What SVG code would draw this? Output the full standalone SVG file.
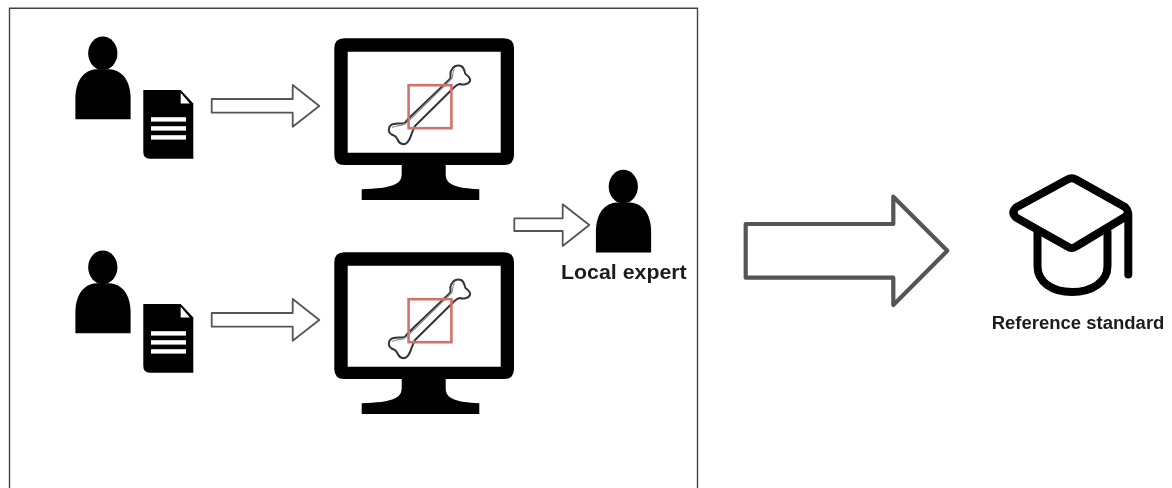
<svg xmlns="http://www.w3.org/2000/svg" width="1172" height="488" viewBox="0 0 1172 488">
<style>
.k{fill:#000}
.w{fill:#fff}
.arrow{fill:#fff;stroke:#555;stroke-width:1.8;stroke-linejoin:round}
.bone{fill:#fff;stroke:#2f353a;stroke-width:2;stroke-linejoin:round}
.inner{fill:none;stroke:#8a8f93;stroke-width:1.2}
.roi{fill:none;stroke:#d5706a;stroke-width:2.6}
.cap{fill:none;stroke:#000;stroke-width:8;stroke-linecap:round;stroke-linejoin:round}
text{font-family:"Liberation Sans",Arial,sans-serif;font-weight:700;fill:#1c1c1c}
</style>
<defs>
<filter id="soft" x="-5%" y="-5%" width="110%" height="110%"><feGaussianBlur stdDeviation="0.45"/></filter>
<g id="person">
<ellipse class="k" cx="102.8" cy="53.3" rx="14.6" ry="16.8"/>
<path class="k" d="M75.4 119.3V97C76 80 84 70 96 69.2H109.5C122 70 130 80 130.6 97V119.3Z"/>
</g>
<g id="doc">
<path class="k" d="M143.3 90H180.7L193.3 103.5V158.7H150Q143.3 158.7 143.3 152Z"/>
<path class="w" d="M180.7 92.8L189.8 103.4H180.7Z"/>
<rect class="w" x="151" y="117.2" width="35" height="4.4"/>
<rect class="w" x="151" y="126.2" width="35" height="4.4"/>
<rect class="w" x="151" y="135.2" width="35" height="4.4"/>
</g>
<g id="monitor">
<path class="k" fill-rule="evenodd" d="M344.3 38.3H504Q514 38.3 514 48.3V155Q514 165 504 165H344.3Q334.3 165 334.3 155V48.3Q334.3 38.3 344.3 38.3ZM347.7 51.7V152.7H500.7V51.7Z"/>
<path class="k" d="M401.7 164V174C401.5 185 392 188 361.7 189.3V200H479.3V189.3C456 188 445.5 185 445.7 174V164Z"/>
<path class="bone" d="M408.5 118.5L450 79C451.5 76 449.5 74 451 71C452.5 66.5 457 64.5 461 66C464.5 67.5 464 71 465.5 74C468 76 471 78 470 81C468.5 84.5 463 85 459.5 84C457.5 84.5 456 85.5 454.5 87L415.5 125.5C413 128.5 413 131 411.7 133.5C410.5 137 409.5 141.5 405.5 143.8C401.5 145 398.5 142 397 138.5C396 135.5 394 135.5 391.5 134.5C388 132.5 388 128 390.5 125.5C394 122.5 399 124 403.5 123.5C406 122.8 406.5 120.5 408.5 118.5Z"/>
<path class="inner" d="M392 127.5C398 125 403 126 407 122.5L452 78.5C453 75 452.5 72 454.5 69"/>
<rect class="roi" x="408.6" y="85.2" width="42.8" height="43"/>
</g>
</defs>

<g id="frame"><path d="M9.5 488V8.3H697.5V488" fill="none" stroke="#444" stroke-width="1.4"/></g>

<g id="nodes" filter="url(#soft)">
<g id="reader-1"><use href="#person"/></g>
<g id="report-1"><use href="#doc"/></g>
<g id="workstation-1"><use href="#monitor"/></g>
<g id="reader-2"><use href="#person" transform="translate(0 214)"/></g>
<g id="report-2"><use href="#doc" transform="translate(0 214)"/></g>
<g id="workstation-2"><use href="#monitor" transform="translate(0 214)"/></g>
<g id="local-expert"><use href="#person" transform="translate(520.5 133.3)"/></g>
<g id="reference-standard">
<path class="cap" d="M1067.5 179.5Q1071.7 177 1076 179.5L1125 207Q1130.5 212.5 1125 217L1076 246.5Q1071.7 249.5 1067.5 246.5L1016 217.5Q1011 212.5 1016 207.5Z"/>
<path class="cap" d="M1128.3 214V274.5"/>
<path class="cap" d="M1037.5 232V266C1037.5 282 1052 292 1072 292C1092 292 1107.5 282 1107.5 266V232"/>
</g>
</g>

<g id="connectors" filter="url(#soft)">
<path class="arrow" d="M211.7 99H292.7V85L319.3 106L292.7 126.7V112.7H211.7Z"/>
<path class="arrow" d="M211.7 313H292.7V299L319.3 320L292.7 340.7V326.7H211.7Z"/>
<path class="arrow" d="M514.3 218.3H562.7V204.3L589.3 225L562.7 246V231H514.3Z"/>
<path class="arrow" style="stroke-width:4.2" d="M745.7 224H893.3V196.7L947.3 250.7L893.3 305V277.7H745.7Z"/>
</g>

<text id="label-local" x="561" y="279" font-size="21" textLength="125.7" lengthAdjust="spacingAndGlyphs">Local expert</text>
<text id="label-reference" x="991.7" y="329" font-size="17.5" textLength="172.7" lengthAdjust="spacingAndGlyphs">Reference standard</text>
</svg>
